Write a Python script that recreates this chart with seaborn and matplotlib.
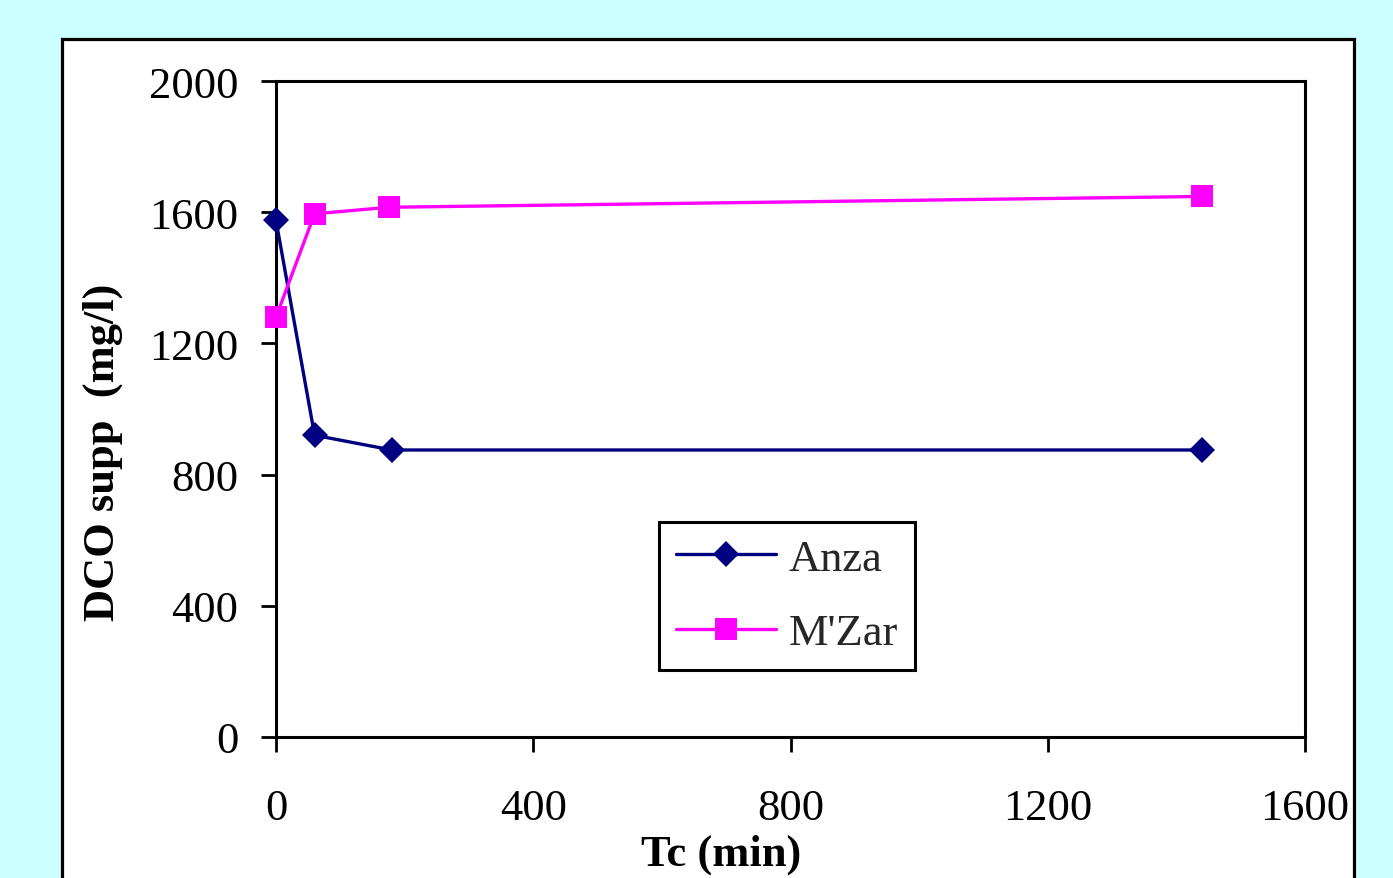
import matplotlib
matplotlib.use("Agg")
import matplotlib.pyplot as plt
import seaborn as sns
import pandas as pd
from matplotlib.patches import Rectangle

# Data
time_anza = [0, 60, 180, 1440]
dco_anza = [1575, 920, 875, 875]
time_mzar = [0, 60, 175, 1440]
dco_mzar = [1280, 1595, 1615, 1648]
series_names = ["Anza", "M'Zar"]
x_ticks = [0, 400, 800, 1200, 1600]
y_ticks = [0, 400, 800, 1200, 1600, 2000]
x_label = "Tc (min)"
y_label = "DCO supp  (mg/l)"

sns.set_theme(style="white")
plt.rcParams['font.family'] = ['Liberation Serif', 'DejaVu Serif']

W, H = 1393, 879
fig = plt.figure(figsize=(W / 100, H / 100), dpi=100, facecolor="#CCFFFF")

# outer white panel with black border
panel = Rectangle((62 / W, -0.05), (1354 - 62) / W, (1 - 40 / H) + 0.05,
                  transform=fig.transFigure, facecolor="white",
                  edgecolor="black", linewidth=2.3, zorder=-5)
fig.add_artist(panel)

ax = fig.add_axes([276 / W, 1 - 738 / H, (1305 - 276) / W, (738 - 82) / H])
ax.set_zorder(1)
ax.set_facecolor("white")

df_a = pd.DataFrame({"t": time_anza, "dco": dco_anza})
df_m = pd.DataFrame({"t": time_mzar, "dco": dco_mzar})

sns.lineplot(data=df_a, x="t", y="dco", ax=ax, color="#000080", linewidth=2.4,
             marker="D", markersize=13.5, markeredgewidth=0, label=series_names[0],
             clip_on=False, zorder=3)
sns.lineplot(data=df_m, x="t", y="dco", ax=ax, color="#FF00FF", linewidth=2.4,
             marker="s", markersize=16, markeredgewidth=0, label=series_names[1],
             clip_on=False, zorder=3)

ax.set_xlim(0, 1600)
ax.set_ylim(0, 2000)
ax.set_xticks(x_ticks)
ax.set_yticks(y_ticks)
ax.set_xticklabels([str(v) for v in x_ticks])
ax.set_yticklabels([str(v) for v in y_ticks])
ax.tick_params(axis="both", direction="out", length=11, width=2, color="black",
               labelsize=32, labelcolor="black", left=True, bottom=True)
ax.tick_params(axis="y", pad=16)
ax.tick_params(axis="x", pad=26)
for s in ax.spines.values():
    s.set_visible(True)
    s.set_color("black")
    s.set_linewidth(2.2)

ax.set_xlabel(x_label, fontsize=32, fontweight="bold", color="black")
ax.set_ylabel(y_label, fontsize=32, fontweight="bold", color="black")
ax.xaxis.set_label_coords((721 - 276) / (1305 - 276), (738 - 855) / (738 - 82))
ax.yaxis.set_label_coords((103 - 276) / (1305 - 276), (738 - 452) / (738 - 82))
ax.xaxis.label.set_va("center")
ax.yaxis.label.set_va("center")

leg = ax.legend(loc="center", bbox_to_anchor=((787 - 276) / 1029, (738 - 597) / 656),
                fontsize=32, frameon=True, fancybox=False, shadow=False,
                handlelength=2.25, labelspacing=0.78, borderpad=0.38,
                handletextpad=0.3, borderaxespad=0)
leg.get_frame().set_edgecolor("black")
leg.get_frame().set_linewidth(2.2)
leg.get_frame().set_facecolor("white")
leg.get_frame().set_alpha(1)

fig.savefig("out.png", dpi=100, facecolor=fig.get_facecolor())
